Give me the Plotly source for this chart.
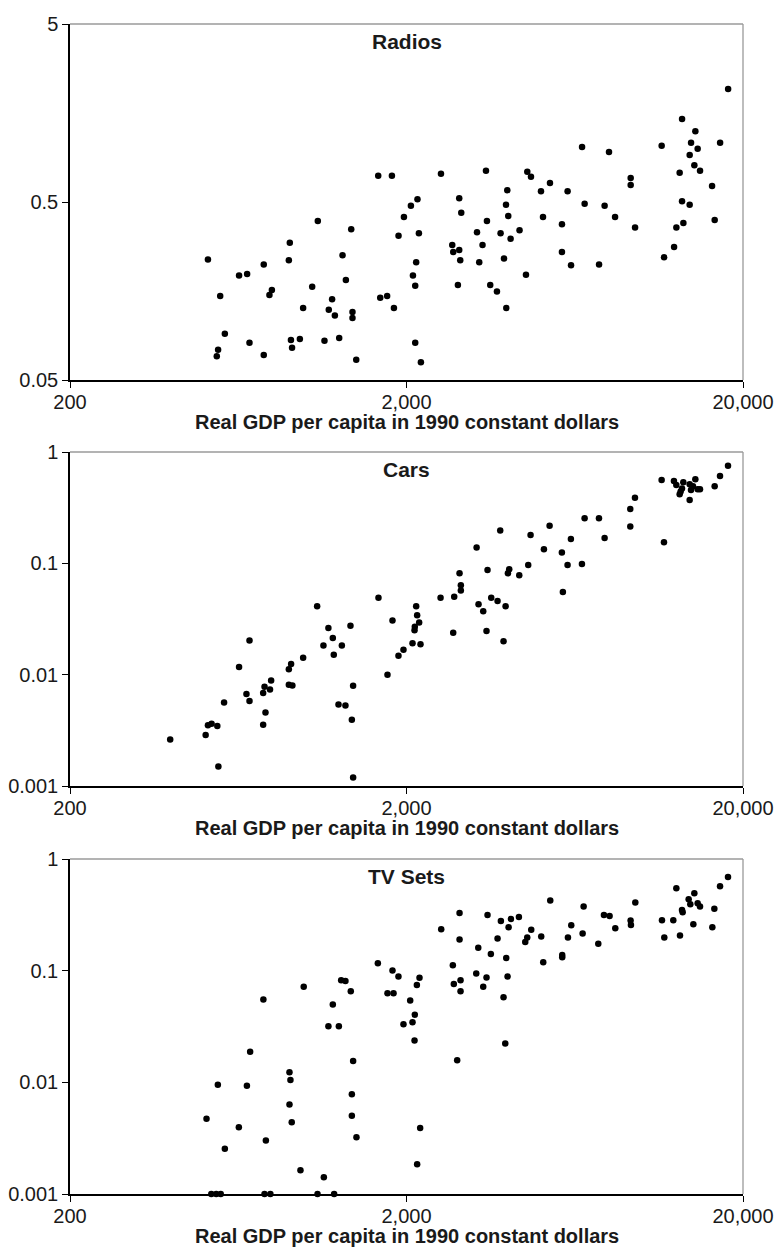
import plotly.graph_objects as go

# ---------------- data ----------------
radios_gdp = [514, 559, 546, 551, 577, 636, 672, 683, 753, 753, 783, 796, 894, 900, 907, 914, 964, 986,
              1049, 1090, 1141, 1175, 1202, 1225, 1262, 1291, 1321, 1370, 1382, 1382, 1418, 1648, 1810,
              1671, 1752, 1835, 1894, 1965, 2061, 2156, 2177, 2137, 2090, 2123, 2123, 2207, 2532, 2735,
              2754, 2869, 2889, 2869, 2909, 2843, 3240, 3290, 3365, 3445, 3468, 3547, 3714, 3807, 3897,
              3959, 3951, 3986, 4013, 4077, 4335, 4530, 4571, 4688, 5020, 5090, 5338, 5794, 5794, 6022,
              6166, 6649, 6767, 7468, 7759, 7996, 8333, 9273, 9273, 9556, 11464, 11653, 12481, 12679,
              12966, 13180, 13180, 13299, 13885, 13885, 14018, 14338, 14437, 14665, 14906, 16186, 16476,
              17100, 18062]
radios_val = [0.238, 0.148, 0.068, 0.074, 0.091, 0.193, 0.197, 0.081, 0.223, 0.069, 0.150, 0.160, 0.235,
              0.295, 0.084, 0.076, 0.085, 0.127, 0.167, 0.391, 0.083, 0.124, 0.142, 0.115, 0.086, 0.251,
              0.182, 0.351, 0.1205, 0.1115, 0.065, 0.703, 0.703, 0.145, 0.148, 0.127, 0.323, 0.412, 0.477,
              0.518, 0.334, 0.229, 0.193, 0.169, 0.081, 0.063, 0.721, 0.287, 0.262, 0.269, 0.235, 0.525,
              0.435, 0.171, 0.338, 0.229, 0.287, 0.750, 0.391, 0.171, 0.157, 0.334, 0.241, 0.127, 0.483,
              0.582, 0.417, 0.311, 0.347, 0.195, 0.740, 0.693, 0.574, 0.412, 0.639, 0.375, 0.262, 0.574,
              0.2205, 1.018, 0.489, 0.223, 0.477, 0.955, 0.412, 0.682, 0.623, 0.36, 1.036, 0.245, 0.279,
              0.36, 0.730, 1.463, 0.505, 0.381, 0.918, 0.483, 1.077, 0.804, 1.247, 0.996, 0.750, 0.615,
              0.396, 1.077, 2.157]

cars_gdp = [397, 506, 514, 527, 548, 552, 574, 636, 669, 683, 683, 750, 757, 786, 792, 762, 750, 894, 908,
            894, 916, 986, 1085, 1133, 1172, 1208, 1216, 1256, 1285, 1317, 1363, 1388, 1376, 1388, 1651,
            1756, 1817, 1893, 1959, 2084, 2201, 2113, 2117, 2181, 2151, 2137, 2525, 2772, 2753, 2875, 2901,
            2901, 3231, 3274, 3381, 3458, 3482, 3571, 3729, 3798, 3885, 3940, 4003, 4039, 4326, 4600, 4675,
            5122, 5324, 5791, 5831, 6021, 6160, 6644, 6766, 7464, 7758, 9248, 9248, 9549, 11461, 11646,
            12470, 12674, 12965, 13054, 13174, 13294, 13884, 13884, 14012, 14205, 14435, 14666, 14902,
            16476, 17090, 18050]
cars_val = [0.00262, 0.00287, 0.00352, 0.00362, 0.00345, 0.0015, 0.00563, 0.0117, 0.00669, 0.0203, 0.00579,
            0.00683, 0.00778, 0.00736, 0.00887, 0.00458, 0.00355, 0.0112, 0.0125, 0.00811, 0.0080, 0.0142,
            0.0412, 0.0183, 0.0262, 0.0213, 0.0151, 0.0054, 0.0183, 0.00529, 0.0275, 0.00794, 0.00394,
            0.00119, 0.049, 0.0100, 0.0306, 0.0148, 0.0167, 0.0192, 0.0188, 0.0251, 0.0269, 0.0294, 0.0342,
            0.0412, 0.049, 0.050, 0.0238, 0.0815, 0.0636, 0.0569, 0.139, 0.043, 0.0372, 0.0247, 0.0873,
            0.049, 0.046, 0.197, 0.020, 0.0412, 0.0815, 0.0885, 0.0782, 0.0968, 0.180, 0.134, 0.218, 0.125,
            0.0554, 0.0968, 0.165, 0.0988, 0.254, 0.254, 0.169, 0.308, 0.214, 0.389, 0.561, 0.155, 0.549,
            0.506, 0.417, 0.441, 0.469, 0.534, 0.513, 0.371, 0.456, 0.492, 0.568, 0.462, 0.462, 0.492,
            0.609, 0.754]

tv_gdp = [509, 526, 544, 561, 550, 577, 635, 671, 686, 751, 764, 757, 788, 898, 904, 898, 912, 968, 990,
          1088, 1136, 1172, 1208, 1219, 1259, 1279, 1317, 1366, 1388, 1376, 1376, 1420, 1644, 1756, 1830,
          1817, 1893,
          1959, 2051, 2084, 2117, 2113, 2147, 2186, 2196, 2151, 2536, 2746, 2765, 2829, 2875, 2875, 2895,
          2895, 3223, 3268, 3381, 3458, 3482, 3562, 3729, 3815, 3885, 3931, 3958, 3994, 4022, 4086, 4316,
          4507, 4569, 4696, 5028, 5098, 5348, 5805, 5805, 6036, 6175, 6674, 6720, 7430, 7723, 8028, 8346,
          9268, 9290, 9571, 11488, 11671, 12414, 12674, 12994, 13174, 13234, 13789, 13946, 14237, 14335,
          14666, 14902, 16214, 16438, 17090, 18050]
tv_val = [0.00472, 0.001, 0.001, 0.001, 0.0095, 0.00254, 0.00397, 0.0093, 0.0188, 0.0551, 0.00302, 0.001,
          0.001, 0.0123, 0.0105, 0.00634, 0.0044, 0.00163, 0.0716, 0.001, 0.00141, 0.0318, 0.0497, 0.001,
          0.0318, 0.0821, 0.081, 0.0655, 0.0155, 0.00784, 0.00502, 0.00323, 0.1165, 0.0628, 0.0628, 0.1002,
          0.0886,
          0.0332, 0.054, 0.0346, 0.0402, 0.0237, 0.0746, 0.0862, 0.00389, 0.00185, 0.235, 0.112, 0.0761,
          0.0158, 0.329, 0.190, 0.0821, 0.0655, 0.0942, 0.160, 0.0716, 0.0868, 0.3155, 0.141, 0.194, 0.279,
          0.0579, 0.0223, 0.130, 0.0886, 0.245, 0.2905, 0.303, 0.181, 0.198, 0.233, 0.202, 0.119, 0.424,
          0.138, 0.132, 0.198, 0.255, 0.215, 0.375, 0.174, 0.3155, 0.309, 0.240, 0.281, 0.257, 0.407,
          0.283, 0.198, 0.283, 0.547, 0.206, 0.350, 0.333, 0.436, 0.393, 0.260, 0.493, 0.401, 0.375,
          0.245, 0.359, 0.569, 0.690]

panel_titles = ["Radios", "Cars", "TV Sets"]
x_title = "Real GDP per capita in 1990 constant dollars"
x_tickvals = [200, 2000, 20000]
x_ticktext = ["200", "2,000", "20,000"]
y1_tickvals = [0.05, 0.5, 5]
y1_ticktext = ["0.05", "0.5", "5"]
y23_tickvals = [0.001, 0.01, 0.1, 1]
y23_ticktext = ["0.001", "0.01", "0.1", "1"]

# ---------------- figure ----------------
W, H = 778, 1249
ML, MR, MT, MB = 70, 35, 24, 55
plot_h = H - MT - MB


def frac(ypx):
    return (H - MB - ypx) / plot_h


domains = [
    [frac(380), 1.0],
    [frac(786), frac(452)],
    [0.0, frac(859)],
]

FONT = "Liberation Sans, Arial, Helvetica, sans-serif"
TXT = "#1a1a1a"

fig = go.Figure()
series = [(radios_gdp, radios_val), (cars_gdp, cars_val), (tv_gdp, tv_val)]
for i, (gx, gy) in enumerate(series):
    sfx = "" if i == 0 else str(i + 1)
    fig.add_trace(go.Scatter(
        x=gx, y=gy, mode="markers",
        marker=dict(color="black", size=6.5, line=dict(width=0)),
        xaxis="x" + sfx, yaxis="y" + sfx, cliponaxis=False,
        showlegend=False, hoverinfo="x+y"))

layout = dict(
    width=W, height=H,
    margin=dict(l=ML, r=MR, t=MT, b=MB, autoexpand=False),
    paper_bgcolor="white", plot_bgcolor="white",
    font=dict(family=FONT, color=TXT, size=20),
    showlegend=False,
)

shapes = []
annotations = []
for i in range(3):
    sfx = "" if i == 0 else str(i + 1)
    xa = "xaxis" + sfx
    ya = "yaxis" + sfx
    layout[xa] = dict(
        type="log", range=[2.30103, 4.30103], domain=[0, 1],
        anchor="y" + sfx, automargin=False,
        tickvals=x_tickvals, ticktext=x_ticktext,
        ticks="outside", ticklen=6, tickwidth=1.3, tickcolor="black",
        ticklabelstandoff=-3,
        showline=True, linecolor="black", linewidth=1.5,
        showgrid=False, zeroline=False,
        tickfont=dict(size=20, color=TXT, family=FONT),
    )
    if i == 0:
        yr = [-1.30103, 0.69897]
        tv, tt = y1_tickvals, y1_ticktext
    else:
        yr = [-3, 0]
        tv, tt = y23_tickvals, y23_ticktext
    layout[ya] = dict(
        type="log", range=yr, domain=domains[i],
        anchor="x" + sfx, automargin=False,
        tickvals=tv, ticktext=tt,
        ticks="outside", ticklen=6, tickwidth=1.3, tickcolor="black",
        showline=True, linecolor="black", linewidth=1.5,
        showgrid=False, zeroline=False,
        tickfont=dict(size=20, color=TXT, family=FONT),
    )
    xref_d = ("x" + sfx) + " domain"
    yref_d = ("y" + sfx) + " domain"
    # gray top and right frame
    shapes.append(dict(type="line", xref=xref_d, yref=yref_d, x0=0, x1=1, y0=1, y1=1,
                       line=dict(color="#9a9a9a", width=1.3), layer="below"))
    shapes.append(dict(type="line", xref=xref_d, yref=yref_d, x0=1, x1=1, y0=0, y1=1,
                       line=dict(color="#9a9a9a", width=1.3), layer="below"))
    # panel title
    annotations.append(dict(text="<b>" + panel_titles[i] + "</b>", xref=xref_d, yref=yref_d,
                            x=0.5, y=1, xanchor="center", yanchor="top", yshift=-4,
                            showarrow=False, font=dict(size=21, color=TXT, family=FONT)))
    # x-axis title
    annotations.append(dict(text="<b>" + x_title + "</b>", xref=xref_d, yref=yref_d,
                            x=0.5, y=0, xanchor="center", yanchor="top", yshift=-29,
                            showarrow=False, font=dict(size=20, color=TXT, family=FONT)))

layout["shapes"] = shapes
layout["annotations"] = annotations
fig.update_layout(**layout)

fig.write_html("out.html", config={"displayModeBar": False},
               post_script="document.body.style.margin='0';document.body.style.overflow='hidden';")
